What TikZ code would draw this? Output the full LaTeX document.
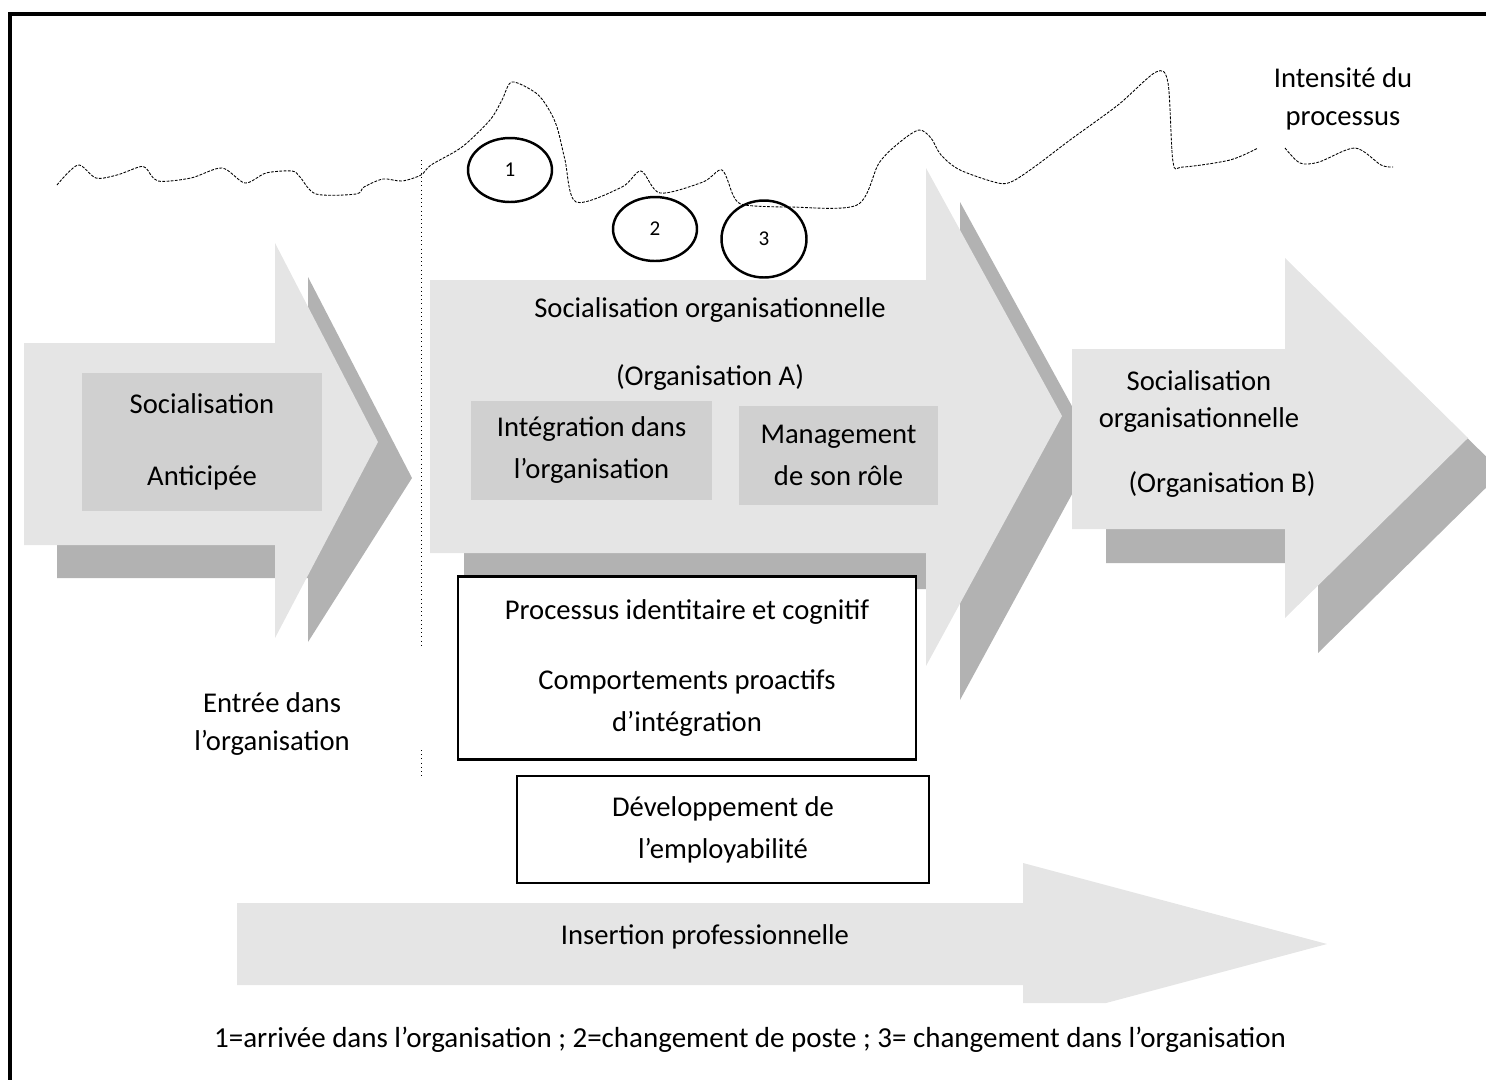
\documentclass[tikz,border=0pt]{standalone}
\usepackage{fontspec}
\setmainfont{Carlito}
\usepackage{tikz}
\usetikzlibrary{shapes.geometric}
\definecolor{gclair}{gray}{0.9}
\definecolor{gombre}{gray}{0.7}
\definecolor{gboite}{gray}{0.815}
\tikzset{
  clair/.style={fill=gclair},
  ombre/.style={fill=gombre},
  boite/.style={fill=gboite, inner sep=0pt, align=center, font=\fontsize{16.3}{23.9}\selectfont},
  cadre/.style={draw=black, line width=1.3pt, fill=white, inner sep=0pt, align=center, font=\fontsize{16.3}{23.9}\selectfont},
  txt/.style={font=\fontsize{16.3}{23.9}\selectfont, align=center, inner sep=0pt},
  txtserre/.style={font=\fontsize{16.3}{21.6}\selectfont, align=center, inner sep=0pt},
  rond/.style={draw, ellipse, line width=1.4pt, inner sep=0pt, font=\fontsize{12}{14}\selectfont},
  courbe/.style={line width=0.5pt, dash pattern=on 1.6pt off 0.8pt}
}
\begin{document}
\begin{tikzpicture}[x=0.02cm,y=-0.02cm]
\useasboundingbox (0,0) rectangle (1486,1079);
\draw[line width=2pt] (10,1100) -- (10,14) -- (1500,14);
\fill[ombre] (57,378) -- (308,378) -- (308,277) -- (412,478) -- (308,642) -- (308,578) -- (57,578) -- cycle;
\fill[clair] (24,343) -- (275,343) -- (275,243) -- (378,442) -- (275,638) -- (275,545) -- (24,545) -- cycle;
\node[boite, minimum width=4.8cm, minimum height=2.78cm] (anticipee) at (202,442) {Socialisation\\[17.1pt]Anticip\'ee};
\fill[ombre] (464,400) -- (960,400) -- (960,202) -- (1096,450) -- (960,700) -- (960,589) -- (464,589) -- cycle;
\fill[clair] (430,280) -- (926,280) -- (926,168) -- (1062,416) -- (926,666) -- (926,553) -- (430,553) -- cycle;
\node[txt] (orgA) at (710,344) {Socialisation organisationnelle\\[14.8pt](Organisation A)};
\node[boite, minimum width=4.82cm, minimum height=1.98cm] (integration) at (591.5,450.5) {Intégration dans\\l’organisation};
\node[boite, minimum width=3.98cm, minimum height=1.98cm] (management) at (838.5,455.5) {Management\\de son rôle};
\fill[ombre] (1106,400) -- (1318,400) -- (1318,292) -- (1502,472) -- (1318,653) -- (1318,563) -- (1106,563) -- cycle;
\fill[clair] (1072,349) -- (1285,349) -- (1285,258) -- (1468,438) -- (1285,618) -- (1285,529) -- (1072,529) -- cycle;
\node[txtserre] (orgB) at (1199,401.5) {Socialisation\\organisationnelle};
\node[txt] (orgBsub) at (1222,484) {(Organisation B)};
\fill[clair] (237,903) -- (1023,903) -- (1023,863) -- (1327,944) -- (1106,1003) -- (1023,1003) -- (1023,985) -- (237,985) -- cycle;
\node[txt] (insertion) at (705,937) {Insertion professionnelle};
\node[cadre, minimum width=9.16cm, minimum height=3.66cm] (processus) at (687,668) {Processus identitaire et cognitif\\[15.9pt]Comportements proactifs\\d’intégration};
\node[cadre, minimum width=8.24cm, minimum height=2.14cm] (employabilite) at (723,829.5) {Développement de\\l’employabilité};
\draw[dotted, line width=0.4pt] (421,160) -- (421,648);
\draw[dotted, line width=0.4pt] (421,750) -- (421,777);
\draw[courbe] plot[smooth, tension=0.5] coordinates {(57,185) (78,165) (96,178) (117,175) (139,167) (146,168) (158,181) (191,178) (222,168) (245,183) (266,173) (292,171) (300,177) (316,194) (356,194) (364,187) (383,179) (402,181) (421,175) (431,165) (462,147) (490,120) (502,100) (512,82) (536,93) (548,108) (557,127) (565,160) (576,202) (622,187) (641,171) (660,193) (703,182) (722,170) (734,197) (745,205) (790,207) (857,205) (879,163) (900,142) (919,130) (931,138) (941,155) (960,170) (998,183) (1013,181) (1037,165) (1070,140) (1118,105) (1156,72) (1168,83) (1173,162) (1183,167) (1230,160) (1258,148)};
\draw[courbe] plot[smooth, tension=0.5] coordinates {(1285,148) (1300,163) (1319,162) (1355,148) (1381,165) (1393,167)};
\node[rond, minimum width=1.68cm, minimum height=1.28cm] (c1) at (510,170) {1};
\node[rond, minimum width=1.68cm, minimum height=1.28cm] (c2) at (655,229) {2};
\node[rond, minimum width=1.7cm, minimum height=1.54cm] (c3) at (764,239) {3};
\node[txtserre] (intensite) at (1343,99) {Intensité du\\processus};
\node[txtserre] (entree) at (272,724) {Entrée dans\\l’organisation};
\node[txt, font=\fontsize{16.5}{20}\selectfont] (legende) at (750,1040) {1=arrivée dans l’organisation ; 2=changement de poste ; 3= changement dans l’organisation};
\end{tikzpicture}
\end{document}
